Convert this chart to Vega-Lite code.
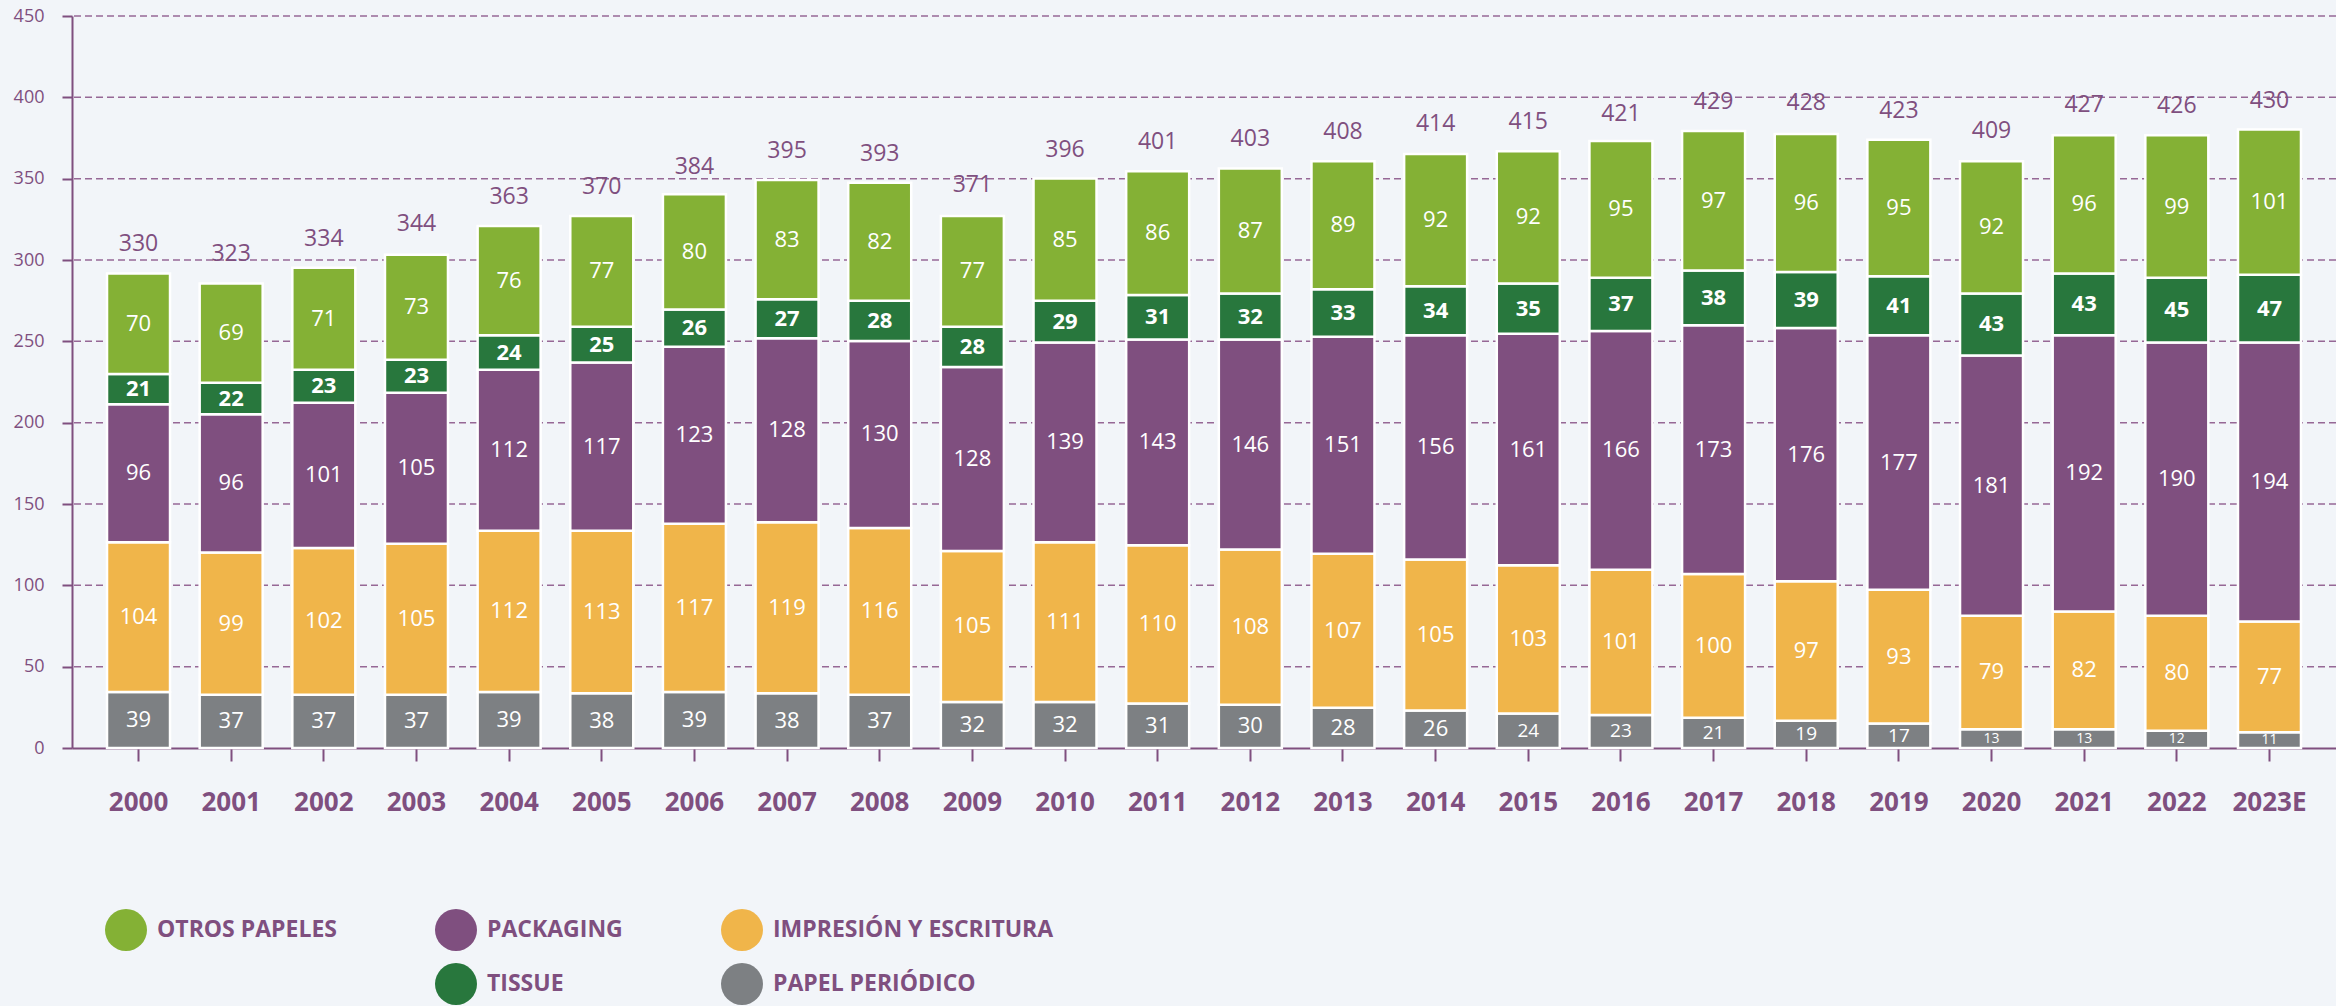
{
  "$schema": "https://vega.github.io/schema/vega-lite/v6.json",
  "width": 2264,
  "height": 732,
  "autosize": {"type": "none"},
  "padding": {"left": 72, "top": 16, "right": 0, "bottom": 258},
  "background": "#f2f5f9",
  "config": {"view": {"stroke": null}, "font": "Open Sans"},
  "datasets": {
    "anual": [
      {"a": "2000", "PP": 39, "IE": 104, "PK": 96, "TI": 21, "OP": 70, "T": 330},
      {"a": "2001", "PP": 37, "IE": 99, "PK": 96, "TI": 22, "OP": 69, "T": 323},
      {"a": "2002", "PP": 37, "IE": 102, "PK": 101, "TI": 23, "OP": 71, "T": 334},
      {"a": "2003", "PP": 37, "IE": 105, "PK": 105, "TI": 23, "OP": 73, "T": 344},
      {"a": "2004", "PP": 39, "IE": 112, "PK": 112, "TI": 24, "OP": 76, "T": 363},
      {"a": "2005", "PP": 38, "IE": 113, "PK": 117, "TI": 25, "OP": 77, "T": 370},
      {"a": "2006", "PP": 39, "IE": 117, "PK": 123, "TI": 26, "OP": 80, "T": 384},
      {"a": "2007", "PP": 38, "IE": 119, "PK": 128, "TI": 27, "OP": 83, "T": 395},
      {"a": "2008", "PP": 37, "IE": 116, "PK": 130, "TI": 28, "OP": 82, "T": 393},
      {"a": "2009", "PP": 32, "IE": 105, "PK": 128, "TI": 28, "OP": 77, "T": 371},
      {"a": "2010", "PP": 32, "IE": 111, "PK": 139, "TI": 29, "OP": 85, "T": 396},
      {"a": "2011", "PP": 31, "IE": 110, "PK": 143, "TI": 31, "OP": 86, "T": 401},
      {"a": "2012", "PP": 30, "IE": 108, "PK": 146, "TI": 32, "OP": 87, "T": 403},
      {"a": "2013", "PP": 28, "IE": 107, "PK": 151, "TI": 33, "OP": 89, "T": 408},
      {"a": "2014", "PP": 26, "IE": 105, "PK": 156, "TI": 34, "OP": 92, "T": 414},
      {"a": "2015", "PP": 24, "IE": 103, "PK": 161, "TI": 35, "OP": 92, "T": 415},
      {"a": "2016", "PP": 23, "IE": 101, "PK": 166, "TI": 37, "OP": 95, "T": 421},
      {"a": "2017", "PP": 21, "IE": 100, "PK": 173, "TI": 38, "OP": 97, "T": 429},
      {"a": "2018", "PP": 19, "IE": 97, "PK": 176, "TI": 39, "OP": 96, "T": 428},
      {"a": "2019", "PP": 17, "IE": 93, "PK": 177, "TI": 41, "OP": 95, "T": 423},
      {"a": "2020", "PP": 13, "IE": 79, "PK": 181, "TI": 43, "OP": 92, "T": 409},
      {"a": "2021", "PP": 13, "IE": 82, "PK": 192, "TI": 43, "OP": 96, "T": 427},
      {"a": "2022", "PP": 12, "IE": 80, "PK": 190, "TI": 45, "OP": 99, "T": 426},
      {"a": "2023E", "PP": 11, "IE": 77, "PK": 194, "TI": 47, "OP": 101, "T": 430}
    ],
    "cats": [
      {"key": "PP", "c": "Papel periódico", "k": 1},
      {"key": "IE", "c": "Impresión y escritura", "k": 2},
      {"key": "PK", "c": "Packaging", "k": 3},
      {"key": "TI", "c": "Tissue", "k": 4},
      {"key": "OP", "c": "Otros papeles", "k": 5}
    ],
    "ejes": [
      {"t": 50}, {"t": 100}, {"t": 150}, {"t": 200}, {"t": 250},
      {"t": 300}, {"t": 350}, {"t": 400}, {"t": 450}
    ]
  },
  "layer": [
    {
      "data": {"name": "ejes"},
      "mark": {"type": "rule", "strokeDash": [7, 4], "strokeWidth": 1.5, "color": "#966896"},
      "encoding": {
        "y": {
          "field": "t",
          "type": "quantitative",
          "scale": {"domain": [0, 450], "nice": false, "zero": true},
          "axis": {
            "title": null,
            "values": [0, 50, 100, 150, 200, 250, 300, 350, 400, 450],
            "grid": false,
            "labelFont": "Open Sans",
            "labelFontSize": 18,
            "labelColor": "#7f4f7f",
            "labelPadding": 18,
            "domainColor": "#7f4f7f",
            "domainWidth": 2,
            "tickColor": "#7f4f7f",
            "tickWidth": 2,
            "tickSize": 10
          }
        }
      }
    },
    {
      "data": {"name": "anual"},
      "layer": [
        {
          "transform": [
            {"fold": ["PP", "IE", "PK", "TI", "OP"], "as": ["key", "v"]},
            {"lookup": "key", "from": {"data": {"name": "cats"}, "key": "key", "fields": ["c", "k"]}},
            {"stack": "v", "groupby": ["a"], "sort": [{"field": "k", "order": "ascending"}], "as": ["v0", "v1"]},
            {"calculate": "(datum.v0 + datum.v1) / 2", "as": "vm"}
          ],
          "layer": [
            {
              "mark": {"type": "bar", "stroke": "#ffffff", "strokeWidth": 2.5},
              "encoding": {
                "x": {
                  "field": "a",
                  "type": "nominal",
                  "sort": null,
                  "scale": {"paddingInner": 0.32, "paddingOuter": 0.378},
                  "axis": {
                    "title": null,
                    "labelAngle": 0,
                    "labelFont": "Open Sans",
                    "labelFontSize": 26,
                    "labelFontWeight": "bold",
                    "labelColor": "#7f4f7f",
                    "labelPadding": 28,
                    "domainColor": "#7f4f7f",
                    "domainWidth": 2,
                    "tickColor": "#7f4f7f",
                    "tickWidth": 2,
                    "tickSize": 13,
                    "grid": false
                  }
                },
                "y": {"field": "v0", "type": "quantitative", "scale": {"domain": [0, 509], "nice": false}, "axis": null},
                "y2": {"field": "v1"},
                "color": {
                  "field": "c",
                  "type": "nominal",
                  "scale": {
                    "domain": ["Otros papeles", "_", "Packaging", "Tissue", "Impresión y escritura", "Papel periódico"],
                    "range": ["#84b135", "rgba(0,0,0,0)", "#7f4f7f", "#28773d", "#f0b54a", "#7d8083"]
                  },
                  "legend": {
                    "title": null,
                    "orient": "none",
                    "legendX": 33,
                    "legendY": 893,
                    "padding": 0,
                    "columns": 3,
                    "columnPadding": 98,
                    "rowPadding": 12,
                    "symbolType": "circle",
                    "symbolSize": 1764,
                    "symbolStrokeWidth": 0,
                    "symbolOpacity": 1,
                    "labelOffset": 10,
                    "labelFont": "Open Sans",
                    "labelFontSize": 23,
                    "labelFontWeight": "bold",
                    "labelColor": "#7f4f7f",
                    "labelLimit": 400,
                    "labelExpr": "datum.label == '_' ? '' : upper(datum.label)"
                  }
                }
              }
            },
            {
              "transform": [{"filter": "datum.key != 'TI'"}],
              "mark": {"type": "text", "color": "#ffffff", "baseline": "middle", "font": "Open Sans"},
              "encoding": {
                "x": {"field": "a", "type": "nominal", "sort": null},
                "y": {"field": "vm", "type": "quantitative"},
                "text": {"field": "v", "type": "quantitative"},
                "size": {
                  "condition": [
                    {"test": "datum.key == 'PP' && datum.v <= 14", "value": 14},
                    {"test": "datum.key == 'PP' && datum.v <= 24", "value": 19}
                  ],
                  "value": 22
                }
              }
            },
            {
              "transform": [{"filter": "datum.key == 'TI'"}],
              "mark": {"type": "text", "color": "#ffffff", "baseline": "middle", "font": "Open Sans", "fontWeight": "bold", "fontSize": 22},
              "encoding": {
                "x": {"field": "a", "type": "nominal", "sort": null},
                "y": {"field": "vm", "type": "quantitative"},
                "text": {"field": "v", "type": "quantitative"}
              }
            }
          ]
        },
        {
          "mark": {"type": "text", "color": "#7f4f7f", "fontSize": 23, "dy": -22, "baseline": "alphabetic", "font": "Open Sans"},
          "encoding": {
            "x": {"field": "a", "type": "nominal", "sort": null},
            "y": {"field": "T", "type": "quantitative"},
            "text": {"field": "T", "type": "quantitative"}
          }
        }
      ]
    }
  ],
  "resolve": {"scale": {"y": "independent"}}
}
